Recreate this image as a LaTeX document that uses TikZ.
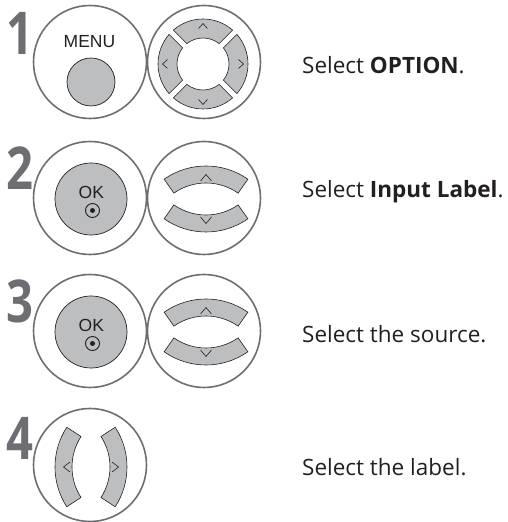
\documentclass[tikz,border=0pt]{standalone}
\usepackage{fontspec}
\setmainfont{Open Sans}
\newfontfamily\keyfont{Liberation Sans}
\usetikzlibrary{positioning}
\definecolor{ringgray}{HTML}{6D6E71}
\definecolor{keygray}{HTML}{BCBEC0}
\definecolor{inkdark}{HTML}{231F20}
\newcommand{\stepdigit}[1]{\scalebox{0.8}[1]{#1}}

\begin{document}
\begin{tikzpicture}[
  x=1pt, y=1pt,
  ring/.style={circle, draw=ringgray, line width=1.6pt, minimum size=113pt, inner sep=0pt},
  button/.style={circle, draw=inkdark, fill=keygray, line width=0.7pt, inner sep=0pt},
  padkey/.style={draw=inkdark, fill=keygray, line width=0.6pt},
  chev/.style={draw=inkdark, line width=0.6pt},
  stepnum/.style={anchor=base, inner sep=0pt, text=ringgray, font=\fontsize{59}{60}\selectfont\bfseries},
  caption/.style={anchor=base west, inner sep=0pt, text=inkdark, font=\fontsize{22.5}{26}\selectfont},
  keylabel/.style={anchor=base, inner sep=0pt, text=inkdark, font=\keyfont\fontsize{17.5}{18}\selectfont}
]
  \useasboundingbox (0,0) rectangle (507,522);

  % step 1: MENU and four-way pad
  \node[stepnum] (num1) at (20,467) {\stepdigit{1}};
  \node[ring] (menuring) at (90,460) {};
  \node[ring] (padring) at (204,460) {};
  \node[button, minimum size=48pt] (menukey) at (91,440) {};
  \node[keylabel] (menutext) at (89.5,474) {MENU};
  \foreach \a in {0,90,180,270} {
    \pgfmathsetmacro\oo{asin(3/45)}
    \pgfmathsetmacro\io{asin(3/26)}
    \draw[padkey, shift={(203,458)}]
      (\a-45+\oo:45) arc[start angle=\a-45+\oo, end angle=\a+45-\oo, radius=45]
      -- (\a+45-\io:26) arc[start angle=\a+45-\io, end angle=\a-45+\io, radius=26] -- cycle;
    \draw[chev, shift={(203,458)}, rotate=\a-90] (-4.5,35.5) -- (0,40.5) -- (4.5,35.5);
  }
  \node[caption] (cap1) at (302,448) {Select \textbf{OPTION}.};

  % step 2 and 3: OK and up/down keys
  \foreach \n/\y in {2/324, 3/191} {
    \node[stepnum] (num\n) at (20,\y+8) {\stepdigit{\n}};
    \node[ring] (okring\n) at (90,\y) {};
    \node[ring] (udring\n) at (204,\y) {};
    \node[button, minimum size=72pt] (okkey\n) at (91,\y-1) {};
    \node[keylabel] (oktext\n) at (91.3,\y-0.3) {OK};
    \node[circle, draw=inkdark, line width=0.9pt, minimum size=14pt, inner sep=0pt] (okdot\n) at (92.5,\y-12.5) {};
    \fill[inkdark] (okdot\n.center) circle[radius=2.5];
    \foreach \a in {90,270} {
      \draw[padkey, shift={(206,\y-1)}, rotate=\a-90]
        (0,-40) ++(55:73) arc[start angle=55, end angle=125, radius=73]
        -- ++(125:-17) arc[start angle=125, end angle=55, radius=56] -- cycle;
      \draw[chev, shift={(206,\y-1)}, rotate=\a-90] (-5.5,18) -- (0,24.5) -- (5.5,18);
    }
  }
  \node[caption] (cap2) at (302,324) {Select \textbf{Input Label}.};
  \node[caption] (cap3) at (302,179) {Select the source.};

  % step 4: left/right keys
  \node[stepnum] (num4) at (20,62) {\stepdigit{4}};
  \node[ring] (lrring) at (90,57) {};
  \foreach \a in {0,180} {
    \draw[padkey, shift={(91,55)}, rotate=\a-90]
      (0,-37) ++(57:73) arc[start angle=57, end angle=123, radius=73]
      -- ++(123:-17) arc[start angle=123, end angle=57, radius=56] -- cycle;
    \draw[chev, shift={(91,55)}, rotate=\a-90] (-5,21) -- (0,27.5) -- (5,21);
  }
  \node[caption] (cap4) at (302,46) {Select the label.};
\end{tikzpicture}
\end{document}
